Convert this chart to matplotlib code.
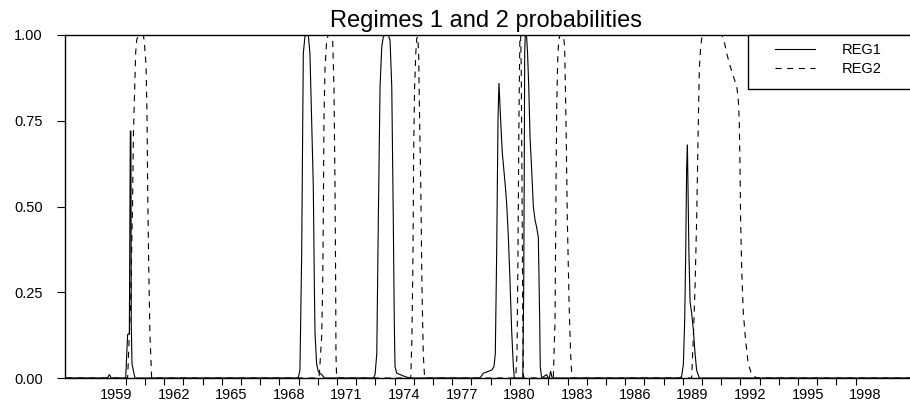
import matplotlib
matplotlib.use("Agg")
import matplotlib.pyplot as plt
from matplotlib.patches import Rectangle

plt.rcParams['font.family'] = ['Liberation Sans', 'DejaVu Sans']

title = "Regimes 1 and 2 probabilities"
series_names = ["REG1", "REG2"]

# decimal-year time points and values
reg1_t = [1956.9, 1959.05, 1959.15, 1959.25, 1960.00, 1960.10, 1960.19, 1960.24, 1960.27, 1960.29,
          1960.33, 1960.48, 1968.98, 1969.07, 1969.16, 1969.245, 1969.33, 1969.385, 1969.505,
          1969.59, 1969.68, 1969.765, 1969.82, 1969.855, 1969.94, 1970.03, 1970.2, 1970.35,
          1972.9, 1972.98, 1973.07, 1973.15, 1973.24, 1973.33, 1973.41, 1973.5, 1973.67, 1973.76,
          1973.85, 1973.93, 1973.98, 1974.02, 1974.11, 1974.54, 1974.8, 1978.44, 1978.62, 1979.05,
          1979.17, 1979.24, 1979.31, 1979.38, 1979.43, 1979.52, 1979.60, 1979.68, 1979.76, 1979.83,
          1979.92, 1980.0, 1980.09, 1980.18, 1980.23, 1980.67, 1980.72, 1980.75, 1980.77, 1980.80,
          1980.87, 1980.92, 1980.98, 1981.05, 1981.13, 1981.22, 1981.31, 1981.39, 1981.48, 1981.51,
          1981.55, 1981.58, 1981.65, 1981.91, 1982.0, 1982.05, 1982.12, 1982.2, 1988.85, 1988.94,
          1989.03, 1989.1, 1989.15, 1989.2, 1989.24, 1989.27, 1989.32, 1989.38, 1989.46, 1989.55,
          1989.64, 1989.72, 1989.86, 2000.9]
reg1_v = [0, 0, 0.01, 0, 0, 0.127, 0.128, 0.72, 0.72, 0.15,
          0.04, 0, 0, 0.023, 0.36, 0.946, 0.995, 1.0, 1.0,
          0.946, 0.75, 0.56, 0.27, 0.13, 0.04, 0.018, 0.01, 0,
          0, 0.01, 0.07, 0.46, 0.85, 0.966, 0.995, 1.0, 1.0, 0.985,
          0.85, 0.46, 0.17, 0.033, 0.014, 0.004, 0, 0, 0.014, 0.023,
          0.033, 0.07, 0.36, 0.75, 0.86, 0.75, 0.66, 0.61, 0.56, 0.51,
          0.41, 0.29, 0.14, 0.033, 0, 0, 0.27, 0.66, 0.95, 1.0,
          0.995, 0.946, 0.85, 0.70, 0.61, 0.5, 0.46, 0.44, 0.41, 0.31,
          0.17, 0.033, 0, 0.01, 0, 0, 0.02, 0, 0, 0.005,
          0.04, 0.17, 0.36, 0.61, 0.68, 0.56, 0.36, 0.22, 0.19, 0.14,
          0.07, 0.023, 0, 0]

reg2_t = [1956.9, 1960.10, 1960.26, 1960.36, 1960.40, 1960.45, 1960.52, 1960.57, 1960.66, 1960.92,
          1960.97, 1961.06, 1961.11, 1961.15, 1961.2, 1961.26, 1961.35, 1970.0, 1970.08, 1970.2,
          1970.255, 1970.285, 1970.32, 1970.375, 1970.46, 1970.545, 1970.67, 1970.775, 1970.84,
          1970.895, 1970.93, 1970.945, 1970.98, 1974.84, 1974.9, 1974.955, 1974.99, 1975.04,
          1975.1, 1975.15, 1975.2, 1975.25, 1975.3, 1975.36, 1975.42, 1975.49, 1975.56, 1980.3,
          1980.37, 1980.42, 1980.47, 1980.51, 1980.52, 1980.56, 1980.59, 1980.63, 1980.67, 1980.7,
          1980.73, 1982.26, 1982.35, 1982.4, 1982.44, 1982.49, 1982.54, 1982.61, 1982.78, 1982.85,
          1982.92, 1982.99, 1983.08, 1983.16, 1983.23, 1989.46, 1989.55, 1989.64, 1989.72, 1989.81,
          1989.86, 1989.93, 1990.0, 1990.1, 1991.03, 1991.14, 1991.29, 1991.46, 1991.63, 1991.81,
          1991.89, 1991.94, 1991.98, 1992.01, 1992.07, 1992.15, 1992.27, 1992.41, 1992.59, 1992.85,
          2000.9]
reg2_v = [0, 0, 0.227, 0.52, 0.71, 0.81, 0.95, 0.985, 1.0, 1.0,
          0.98, 0.91, 0.76, 0.52, 0.32, 0.13, 0, 0, 0.01, 0.12,
          0.27, 0.46, 0.75, 0.9, 0.985, 1.0, 1.0, 0.985, 0.85,
          0.56, 0.27, 0.07, 0, 0, 0.12, 0.36, 0.66, 0.85,
          0.946, 0.99, 0.995, 0.946, 0.75, 0.56, 0.27, 0.07, 0, 0,
          0.07, 0.36, 0.75, 0.95, 0.99, 1.0, 0.9, 0.56, 0.17, 0.01,
          0, 0, 0.17, 0.56, 0.8, 0.93, 0.985, 1.0, 1.0, 0.966,
          0.75, 0.46, 0.22, 0.07, 0, 0, 0.12, 0.27, 0.46, 0.75,
          0.9, 0.966, 0.995, 1.0, 1.0, 0.985, 0.946, 0.91, 0.88, 0.85,
          0.81, 0.75, 0.61, 0.46, 0.31, 0.19, 0.11, 0.04, 0.01, 0,
          0]

tick_years = list(range(1960, 1999))
label_years = list(range(1959, 1999, 3))
y_ticks = [0.0, 0.25, 0.5, 0.75, 1.0]

W, H = 910, 408
fig = plt.figure(figsize=(W / 100, H / 100), dpi=100)

px_per_year = 19.21
x0 = 1959.5 + (65 - 116.1) / px_per_year
x1 = 1959.5 + (913 - 116.1) / px_per_year
ax = fig.add_axes([65 / W, 1 - 378 / H, (913 - 65) / W, (378 - 35) / H])
ax.set_xlim(x0, x1)
ax.set_ylim(0, 1)

lw = 0.8
l1, = ax.plot(reg1_t, reg1_v, color='black', lw=lw, solid_joinstyle='miter')
l2, = ax.plot(reg2_t, reg2_v, color='black', lw=lw, linestyle=(0, (5.5, 5.0)))

ax.spines['right'].set_visible(False)
for s in ['left', 'bottom', 'top']:
    ax.spines[s].set_linewidth(1.0)
    ax.spines[s].set_color('black')

ax.set_yticks(y_ticks)
ax.set_yticklabels([f"{v:.2f}" for v in y_ticks])
ax.tick_params(axis='y', direction='out', length=6, width=0.8, pad=10, labelsize=10.5)

ax.set_xticks(tick_years)
ax.set_xticklabels([])
ax.set_xticks([y + 0.5 for y in label_years], minor=True)
ax.set_xticklabels([str(y) for y in label_years], minor=True)
ax.tick_params(axis='x', which='major', direction='out', length=5, width=0.8)
ax.tick_params(axis='x', which='minor', length=0, pad=7, labelsize=10.5)

fig.text(485.5 / W, 1 - 27 / H, title, ha='center', va='baseline', fontsize=17)

# legend box (extends past the right edge as in the original)
rect = Rectangle((748 / W, 1 - 89 / H), (930 - 748) / W, (89 - 35) / H,
                 transform=fig.transFigure, facecolor='white', edgecolor='black',
                 lw=1.0, zorder=5)
fig.patches.append(rect)
leg = fig.legend([l1, l2], series_names, loc='upper left',
                 bbox_to_anchor=(775 / W, 1 - 43.5 / H), frameon=False,
                 borderpad=0, borderaxespad=0, handlelength=2.74, handletextpad=1.85,
                 labelspacing=0.3, fontsize=10.5)
leg.set_zorder(6)

fig.savefig("out.png", dpi=100)
